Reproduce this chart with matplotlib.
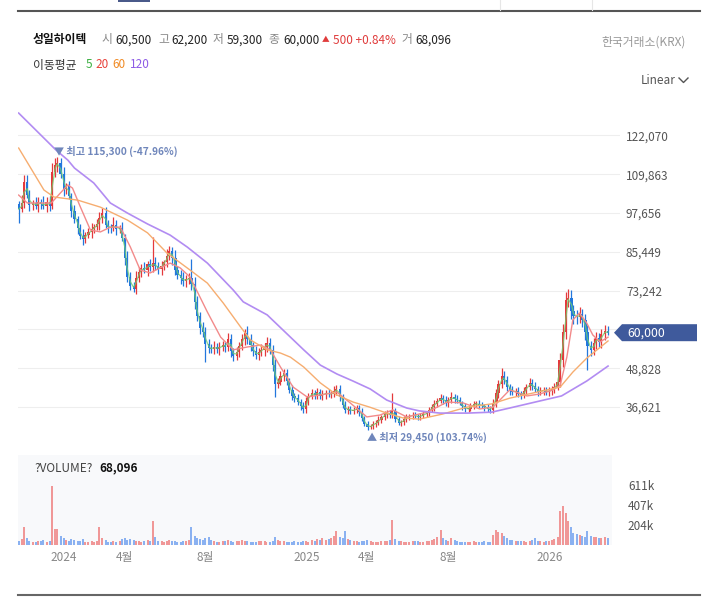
import numpy as np
import pandas as pd
import matplotlib
matplotlib.use('Agg')
import matplotlib.pyplot as plt
import matplotlib.dates as mdates
from matplotlib.patches import Polygon, Rectangle
from matplotlib.lines import Line2D
from matplotlib.transforms import blended_transform_factory

plt.rcParams['font.family'] = ['Noto Sans CJK KR', 'DejaVu Sans']

# ---- data ----
STOCK = '성일하이텍'
hdr_open, hdr_high, hdr_low, hdr_close = 60500, 62200, 59300, 60000
hdr_prev = 59500
hdr_vol = 68096

START = '2023-10-25'   # bars of 3 trading days
first_open = 100500
closes = [
    98900, 100800, 107400, 103300, 100200, 100800, 99900, 101100, 100500, 99900,
    101100, 99900, 110600, 112800, 113400, 109900, 105200, 106100, 103000, 98300,
    95800, 92900, 90400, 89500, 90700, 91700, 92600, 93200, 94200, 96100,
    97600, 93900, 93200, 92900, 93900, 92600, 92900, 89800, 83500, 77500,
    74700, 73800, 77200, 79100, 80300, 79700, 81600, 80700, 81900, 81000,
    80000, 81000, 82200, 84100, 85700, 83500, 79700, 78100, 77200, 76200,
    76900, 77200, 75300, 69700, 65200, 61500, 60200, 56400, 55200, 54900,
    55500, 54900, 55500, 56100, 55500, 58000, 54200, 52700, 53900, 55800,
    58000, 59900, 58000, 56100, 54200, 52900, 53900, 54600, 55500, 56800,
    54600, 49800, 43900, 44500, 46400, 47300, 44800, 42000, 40100, 39500,
    38200, 36900, 36000, 38500, 40100, 41000, 40400, 41300, 40100, 40700,
    41000, 40700, 40700, 41700, 42300, 39800, 37300, 35700, 36000, 35400,
    35700, 36300, 35000, 33200, 31300, 30300, 30600, 31300, 31600, 32500,
    33500, 34400, 34700, 34100, 35400, 32800, 31600, 31900, 32800, 33500,
    33800, 34100, 33800, 33500, 33800, 34400, 34700, 35700, 36600, 37600,
    38500, 39500, 38800, 37900, 38800, 39800, 39100, 38800, 37900, 36900,
    36000, 36000, 36900, 37600, 37600, 37300, 36900, 36600, 36000, 35700,
    37900, 41000, 43900, 46400, 45100, 42900, 42000, 41300, 41700, 40700,
    40400, 41700, 42900, 44200, 43200, 42300, 41300, 41700, 42000, 41300,
    41700, 42300, 42900, 44500, 51400, 60200, 70300, 70900, 66800, 65200,
    64900, 65900, 64000, 60200, 55800, 54600, 56800, 58300, 57100, 59600,
    60500, 60000,
]
# upper / lower shadow of each bar, % beyond the body
wick_up_pct = [
    1.0, 2.5, 0.5, 2.0, 1.5, 1.0, 2.0, 1.5, 1.0, 2.5, 1.5, 2.0, 2.5, 2.0, 0.0, 1.5, 2.0, 1.0, 1.5, 1.0,
    2.0, 1.0, 1.5, 2.5, 1.0, 1.5, 2.0, 1.0, 1.5, 2.0, 0.0, 2.0, 1.5, 1.0, 2.5, 1.5, 1.0, 2.0, 1.5, 2.5,
    2.0, 1.5, 3.0, 2.0, 1.5, 2.5, 1.0, 2.0, 0.0, 2.5, 1.5, 2.0, 1.0, 2.5, 2.0, 1.5, 3.0, 1.5, 2.0, 2.5,
    1.5, 2.0, 0.0, 3.0, 2.5, 2.0, 3.0, 2.5, 3.0, 2.0, 3.5, 2.0, 3.0, 2.5, 2.0, 3.5, 2.5, 2.0, 3.0, 2.5,
    3.0, 2.0, 3.5, 2.5, 2.0, 3.0, 2.5, 3.5, 2.0, 3.0, 2.5, 3.0, 4.0, 3.0, 3.5, 2.5, 3.0, 2.0, 3.5, 2.5,
    3.0, 2.5, 3.5, 3.0, 2.5, 3.5, 2.5, 3.0, 2.5, 3.5, 2.0, 3.0, 2.5, 3.5, 0.0, 3.0, 2.5, 3.5, 2.5, 3.0,
    2.5, 3.0, 2.5, 3.5, 2.0, 3.0, 2.5, 3.0, 2.5, 3.5, 2.0, 3.0, 2.5, 3.0, 0.0, 2.5, 3.0, 2.0, 3.0, 2.5,
    2.0, 3.0, 2.5, 2.0, 3.0, 2.5, 2.0, 3.0, 2.5, 3.5, 2.5, 3.0, 2.0, 3.0, 2.5, 3.5, 2.0, 3.0, 2.5, 2.0,
    2.5, 2.0, 3.0, 2.5, 2.0, 3.0, 2.5, 2.0, 3.0, 2.5, 3.0, 3.5, 3.0, 0.0, 3.5, 3.0, 2.5, 3.0, 2.5, 3.0,
    2.5, 3.0, 2.5, 3.5, 2.5, 3.0, 2.0, 3.0, 2.5, 2.0, 3.0, 2.5, 3.0, 3.5, 4.0, 4.0, 3.5, 0.0, 3.5, 3.0,
    3.0, 3.5, 2.5, 3.0, 3.5, 3.0, 2.5, 3.5, 3.0, 2.5, 3.0, 0.0,
]
wick_dn_pct = [
    2.0, 1.0, 1.5, 1.0, 2.0, 1.5, 1.0, 2.0, 1.5, 1.0, 2.0, 1.5, 1.0, 1.5, 2.0, 1.0, 2.0, 1.5, 1.0, 2.0,
    1.5, 2.0, 1.0, 0.0, 1.5, 1.0, 2.0, 1.5, 1.0, 2.0, 1.5, 1.0, 2.0, 1.5, 1.0, 2.0, 1.5, 1.0, 2.5, 2.0,
    1.5, 0.0, 2.0, 1.5, 2.0, 1.0, 2.5, 1.5, 2.0, 1.5, 2.0, 2.5, 1.5, 2.0, 1.5, 2.5, 2.0, 1.5, 2.5, 2.0,
    2.5, 2.0, 2.5, 3.0, 2.5, 3.0, 2.5, 0.0, 3.0, 2.5, 3.0, 2.5, 3.5, 2.5, 3.0, 2.5, 3.5, 3.0, 2.5, 3.0,
    2.5, 3.0, 2.5, 3.5, 3.0, 2.5, 3.0, 2.5, 3.5, 3.0, 2.5, 3.5, 0.0, 3.0, 2.5, 3.5, 3.0, 2.5, 3.0, 3.5,
    2.5, 3.0, 0.0, 3.5, 3.0, 2.5, 3.5, 3.0, 2.5, 3.0, 3.5, 2.5, 3.0, 2.5, 3.5, 3.0, 2.5, 3.0, 3.5, 2.5,
    3.0, 2.5, 3.5, 3.0, 2.5, 0.0, 1.5, 2.5, 3.5, 2.5, 3.0, 2.5, 3.5, 3.0, 2.5, 3.0, 2.5, 3.0, 2.5, 3.0,
    2.5, 3.0, 2.0, 3.0, 2.5, 2.0, 3.0, 2.5, 2.0, 3.0, 2.5, 2.0, 3.0, 2.5, 3.0, 2.0, 3.0, 2.5, 2.0, 3.0,
    2.5, 3.0, 2.0, 2.5, 3.0, 2.5, 2.0, 3.0, 2.5, 3.0, 2.5, 3.0, 3.5, 3.0, 2.5, 3.0, 3.5, 2.5, 3.0, 2.5,
    3.0, 2.5, 3.0, 2.5, 3.0, 2.5, 3.0, 2.5, 3.0, 2.5, 3.0, 3.5, 3.0, 2.5, 3.5, 4.0, 3.5, 3.0, 3.5, 4.0,
    3.5, 3.0, 3.5, 4.0, 0.0, 3.5, 3.0, 3.5, 3.0, 3.5, 3.0, 0.0,
]
# long shadows that stick out (bar index -> price)
highs = {2: 109600, 14: 115300, 30: 99200, 48: 90100, 62: 83200, 114: 43500,
         134: 41000, 173: 48900, 197: 73700, 211: hdr_high}
lows = {0: 94500, 23: 87600, 41: 72800, 67: 50800, 92: 39800, 102: 34700,
        125: 29450, 204: 48300, 211: hdr_low}

volume_k = [
    45, 60, 184, 70, 40, 35, 30, 38, 42, 50, 35, 40, 603, 160, 163, 90, 70, 55, 45, 60,
    50, 45, 40, 60, 35, 30, 40, 35, 45, 184, 70, 50, 35, 30, 40, 35, 45, 60, 70, 55,
    65, 50, 45, 40, 35, 40, 50, 45, 245, 80, 45, 40, 35, 40, 50, 45, 40, 35, 30, 40,
    45, 50, 184, 90, 70, 60, 55, 75, 80, 50, 40, 35, 30, 40, 45, 50, 40, 35, 40, 45,
    50, 45, 40, 35, 30, 35, 40, 45, 40, 35, 30, 40, 80, 55, 45, 40, 35, 30, 35, 40,
    35, 30, 45, 40, 35, 50, 45, 60, 55, 70, 50, 60, 75, 90, 140, 80, 70, 140, 60, 50,
    45, 40, 35, 40, 45, 50, 40, 35, 30, 35, 40, 45, 40, 50, 258, 60, 45, 40, 35, 30,
    35, 40, 45, 40, 35, 30, 40, 45, 50, 60, 80, 156, 70, 55, 45, 70, 50, 40, 35, 30,
    35, 30, 35, 40, 35, 30, 35, 40, 30, 35, 100, 150, 130, 120, 90, 70, 55, 50, 45, 40,
    45, 40, 35, 40, 50, 70, 45, 40, 35, 40, 45, 50, 60, 80, 343, 400, 330, 240, 180, 120,
    110, 100, 90, 80, 140, 95, 85, 80, 75, 70, 85, 68.096,
]

ma20_dates = ['2023-10-25', '2023-11-07', '2023-12-13', '2023-12-20', '2024-01-07', '2024-01-14',
              '2024-01-26', '2024-02-10', '2024-02-25', '2024-03-11', '2024-03-26', '2024-04-10',
              '2024-04-25', '2024-05-10', '2024-05-25', '2024-06-09', '2024-06-24', '2024-07-09',
              '2024-08-04', '2024-08-24', '2024-09-12', '2024-10-03', '2024-10-23', '2024-11-07',
              '2024-11-22', '2024-12-11', '2025-01-01', '2025-01-21', '2025-02-15', '2025-03-07',
              '2025-04-01', '2025-04-21', '2025-05-10', '2025-05-31', '2025-07-01', '2025-07-31',
              '2025-08-24', '2025-09-18', '2025-10-08', '2025-11-02', '2025-11-28', '2025-12-17',
              '2026-01-06', '2026-01-17', '2026-01-27', '2026-02-05', '2026-02-15', '2026-02-26',
              '2026-03-07', '2026-03-18', '2026-03-30']
ma20_vals = [103300, 100800, 100800, 102400, 106500, 105500,
             99500, 92300, 91700, 93200, 93200, 87000,
             79700, 78800, 80400, 81900, 80400, 77500,
             66500, 58600, 54600, 55500, 56100, 54600,
             49200, 42900, 39800, 40400, 41300, 37900,
             33500, 34100, 35700, 33500, 35000, 38200,
             37900, 36000, 36600, 42000, 40100, 40700,
             42000, 43500, 52300, 64000, 66200, 63000,
             59300, 57100, 58600]

ma60_dates = ['2023-10-25', '2023-12-02', '2023-12-17', '2024-01-22', '2024-02-25', '2024-04-06',
              '2024-05-06', '2024-06-04', '2024-07-09', '2024-08-04', '2024-08-28', '2024-09-23',
              '2024-10-08', '2024-11-02', '2024-11-22', '2024-12-07', '2024-12-27', '2025-01-21',
              '2025-02-15', '2025-03-11', '2025-04-05', '2025-05-01', '2025-05-25', '2025-06-19',
              '2025-07-24', '2025-08-30', '2025-10-06', '2025-11-02', '2026-01-17', '2026-02-05',
              '2026-02-26', '2026-03-30']
ma60_vals = [118100, 104900, 102700, 101700, 99500, 95400,
             91400, 85100, 79700, 75600, 69300, 61800,
             57700, 54600, 53600, 52300, 49200, 44200,
             40400, 38200, 36600, 34700, 33200, 32800,
             34400, 36600, 37600, 39400, 42900, 47600,
             52000, 57400]

ma120_dates = ['2023-10-25', '2023-12-20', '2024-01-07', '2024-01-17', '2024-02-15', '2024-03-11',
               '2024-04-06', '2024-05-06', '2024-06-09', '2024-07-05', '2024-08-04', '2024-09-12',
               '2024-09-27', '2024-11-02', '2024-11-26', '2024-12-27', '2025-01-21', '2025-02-15',
               '2025-03-11', '2025-04-06', '2025-05-01', '2025-05-31', '2025-06-19', '2025-07-20',
               '2025-08-30', '2025-10-06', '2025-11-02', '2025-12-17', '2026-01-19', '2026-02-26',
               '2026-03-30']
ma120_vals = [129100, 117500, 114300, 111800, 107100, 100800,
              97600, 94200, 90700, 86900, 81900, 73400,
              69700, 65600, 60800, 54600, 49800, 47000,
              44800, 42300, 38800, 36300, 35400, 34700,
              34700, 35000, 36300, 38500, 40100, 44800,
              49500]

price_ticks = [36621, 48828, 61035, 73242, 85449, 97656, 109863, 122070]
vol_ticks = [203700, 407300, 611000]
vol_tick_labels = ['204k', '407k', '611k']
month_ticks = ['2024-01-01', '2024-04-01', '2024-08-01', '2025-01-01', '2025-04-01',
               '2025-08-01', '2026-01-01']
month_labels = ['2024', '4월', '8월', '2025', '4월', '8월', '2026']

# ---- styles ----
UP, DOWN = '#e4393c', '#2277dd'
VUP, VDOWN = '#f08c8c', '#7eaaf0'
C5, C20, C60, C120 = '#6fd06f', '#f28a8a', '#f6ad70', '#b28cf2'
ANNO = '#6f86bb'

W, H = 716, 606
fig = plt.figure(figsize=(W / 100, H / 100), dpi=100)


def fx(px):
    return px / W


def fy(py):
    return 1 - py / H


def ftext(x, y, s, **kw):
    kw.setdefault('fontsize', 8.5)
    return fig.text(fx(x), fy(y), s, ha='left', va='center', **kw)


ax = fig.add_axes([fx(18), fy(450), (620 - 18) / W, 350 / H])
axv = fig.add_axes([fx(18), fy(545), (612 - 18) / W, 90 / H])

dates = pd.date_range(START, periods=len(closes), freq='3B')
x = mdates.date2num(dates)
c = np.array(closes, dtype=float)
o = np.r_[first_open, c[:-1]]
hi = np.maximum(o, c) * (1 + np.array(wick_up_pct) / 100)
lo = np.minimum(o, c) * (1 - np.array(wick_dn_pct) / 100)
for i, v in highs.items():
    hi[i] = v
for i, v in lows.items():
    lo[i] = v
up = c >= o
col = np.where(up, UP, DOWN)

ax.vlines(x, lo, hi, colors=col, linewidth=0.9, zorder=2)
ax.bar(x, np.maximum(np.abs(c - o), 300), bottom=np.minimum(o, c), width=3.3,
       color=col, linewidth=0, zorder=2)

ma5 = pd.Series(c).rolling(2, min_periods=1).mean()
ax.plot(x, ma5, color=C5, lw=0.9, alpha=0.8, zorder=3)
ax.plot(mdates.date2num(pd.to_datetime(ma20_dates)), ma20_vals, color=C20, lw=1.0, zorder=3)
ax.plot(mdates.date2num(pd.to_datetime(ma60_dates)), ma60_vals, color=C60, lw=1.0, zorder=3)
ax.plot(mdates.date2num(pd.to_datetime(ma120_dates)), ma120_vals, color=C120, lw=1.2, zorder=3)

ax.set_xlim(mdates.date2num(pd.Timestamp('2023-10-24')), mdates.date2num(pd.Timestamp('2026-04-17')))
ax.set_ylim(23092, 133209)
ax.set_yticks(price_ticks)
ax.set_yticklabels([f'{t:,}' if abs(t - hdr_close) > 3000 else '' for t in price_ticks])
ax.yaxis.tick_right()
ax.tick_params(axis='y', length=0, pad=4.3, labelsize=8.5, labelcolor='#555555')
ax.tick_params(axis='x', bottom=False, labelbottom=False)
ax.grid(axis='y', color='#eeeeee', lw=0.8)
ax.set_axisbelow(True)
for s in ax.spines.values():
    s.set_visible(False)

# high / low markers
ih = int(np.argmax(hi))
il = int(np.argmin(lo))
last = c[-1]
ax.annotate(f'▼ 최고 {hi[ih]:,.0f} ({(last - hi[ih]) / hi[ih] * 100:.2f}%)',
            xy=(x[ih], hi[ih]), xytext=(-3, 6), textcoords='offset pixels',
            ha='left', va='center', fontsize=7.3, fontweight='bold', color=ANNO, zorder=5)
ax.annotate(f'▲ 최저 {lo[il]:,.0f} ({(last - lo[il]) / lo[il] * 100:.2f}%)',
            xy=(x[il], lo[il]), xytext=(-1, -8), textcoords='offset pixels',
            ha='left', va='center', fontsize=7.3, fontweight='bold', color=ANNO, zorder=5)

# current price box
tr = blended_transform_factory(fig.transFigure, ax.transData)
dpp = (133209 - 23092) / 350
hh = 8.5 * dpp
box = Polygon([(fx(614), last), (fx(622), last + hh), (fx(697), last + hh),
               (fx(697), last - hh), (fx(622), last - hh)],
              closed=True, transform=tr, facecolor='#3f5a9c', edgecolor='none',
              clip_on=False, zorder=10)
ax.add_patch(box)
ax.text(fx(627), last, f'{last:,.0f}', transform=tr, ha='left', va='center',
        fontsize=8.8, color='white', clip_on=False, zorder=11)

# volume
vol = np.array(volume_k) * 1000
axv.set_facecolor('#f8f9fb')
axv.bar(x, vol, width=3.0, color=np.where(up, VUP, VDOWN), linewidth=0, alpha=0.9)
axv.set_xlim(mdates.date2num(pd.Timestamp('2023-10-24')), mdates.date2num(pd.Timestamp('2026-04-05')))
axv.set_ylim(0, 918000)
axv.yaxis.tick_right()
axv.set_yticks(vol_ticks)
axv.set_yticklabels(vol_tick_labels)
axv.set_xticks(mdates.date2num(pd.to_datetime(month_ticks)))
axv.set_xticklabels(month_labels)
axv.tick_params(axis='y', length=0, pad=11.5, labelsize=8.5, labelcolor='#555555')
axv.tick_params(axis='x', length=0, pad=4, labelsize=8.5, labelcolor='#888888')
for s in axv.spines.values():
    s.set_visible(False)

ftext(34, 468, '?VOLUME?', color='#444444')
ftext(99, 468, f'{vol[-1]:,.0f}', color='#111111', fontweight='bold')

# header
ftext(33, 40, STOCK, fontweight='bold', color='#111111')
GRAY, DARK = '#888888', '#222222'
for lx, lab, vx, val in [(101, '시', 115, hdr_open), (158, '고', 171, hdr_high),
                         (213, '저', 227, hdr_low), (268, '종', 283, hdr_close),
                         (401, '거', 415, hdr_vol)]:
    ftext(lx, 40, lab, color=GRAY)
    ftext(vx, 40, f'{val:,}', color=DARK)
chg = hdr_close - hdr_prev
ftext(322, 40, '▲', color='#e03c3c', fontsize=5.5)
ftext(333, 40, f'{chg:,} {chg / hdr_prev * 100:+.2f}%', color='#e03c3c')
ftext(601, 42, '한국거래소(KRX)', color='#999999')

ftext(33, 65, '이동평균', color='#333333')
ftext(86, 65, '5', color='#3cb043')
ftext(95, 65, '20', color='#e8413b')
ftext(112, 65, '60', color='#f08a24')
ftext(130, 65, '120', color='#8e5ce6')

ftext(641, 80, 'Linear', color='#555555')
fig.add_artist(Line2D([fx(679), fx(683.5), fx(688)], [fy(78), fy(82.5), fy(78)],
                      color='#555555', lw=1.0))

# frame lines
fig.add_artist(Line2D([fx(18), fx(700)], [fy(11), fy(11)], color='#555555', lw=1.5))
fig.add_artist(Line2D([fx(18), fx(700)], [fy(595), fy(595)], color='#666666', lw=1.5))
for vx in (500, 592):
    fig.add_artist(Line2D([fx(vx), fx(vx)], [fy(0), fy(10)], color='#e6e6e6', lw=0.8))
fig.add_artist(Rectangle((fx(118), fy(1.5)), (150 - 118) / W, 1.5 / H,
                         transform=fig.transFigure, facecolor='#4a5a8a', edgecolor='none'))

fig.savefig('out.png', dpi=100)
